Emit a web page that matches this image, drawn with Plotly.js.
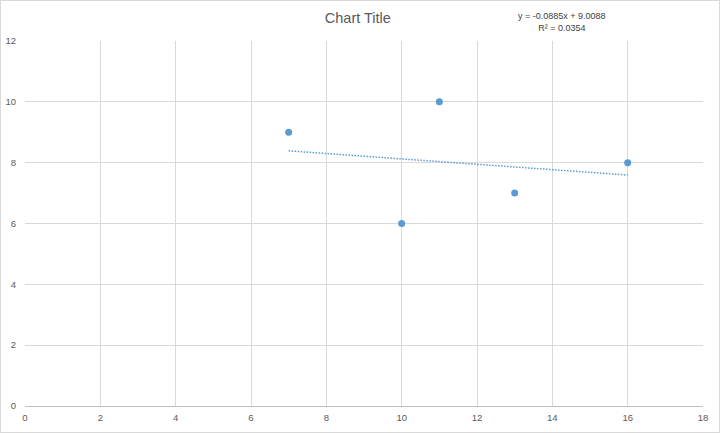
<!DOCTYPE html>
<html>
<head>
<meta charset="utf-8">
<script src="https://cdn.plot.ly/plotly-3.0.1.min.js"></script>
<style>
html,body{margin:0;padding:0;background:#fff;}
#wrap{position:relative;width:720px;height:433px;}
#chart{width:720px;height:433px;}
#frame{position:absolute;left:0;top:0;width:718px;height:431px;border:1px solid #d9d9d9;pointer-events:none;}
</style>
</head>
<body>
<div id="wrap"><div id="chart"></div><div id="frame"></div></div>
<script>
const xValues = [7, 10, 11, 13, 16];
const yValues = [9, 6, 10, 7, 8];
const trendSlope = -0.0885;
const trendIntercept = 9.0088;
const rSquared = 0.0354;
const xTicks = [0, 2, 4, 6, 8, 10, 12, 14, 16, 18];
const yTicks = [0, 2, 4, 6, 8, 10, 12];

const xMin = Math.min(...xValues), xMax = Math.max(...xValues);
const trendX = [xMin, xMax];
const trendY = trendX.map(x => trendSlope * x + trendIntercept);

const font = "Liberation Sans, Arial, sans-serif";
const blue = "#5b9bd5";

const data = [
  {x: xValues, y: yValues, type: "scatter", mode: "markers",
   marker: {color: blue, size: 7}, hoverinfo: "skip", showlegend: false},
  {x: trendX, y: trendY, type: "scatter", mode: "lines",
   line: {color: blue, width: 1.5, dash: "1.5px,1.5px"}, hoverinfo: "skip", showlegend: false}
];

const layout = {
  width: 720, height: 433,
  margin: {l: 25, r: 17, t: 41, b: 27},
  paper_bgcolor: "#fff", plot_bgcolor: "#fff",
  font: {family: font, color: "#595959", size: 9},
  title: {text: "Chart Title", x: 0.497, xanchor: "center", y: 0.958, yanchor: "middle",
          font: {family: font, size: 14.5, color: "#595959"}},
  xaxis: {range: [0, 18], tickvals: xTicks, ticktext: xTicks.map(String),
          showgrid: true, gridcolor: "#d9d9d9", gridwidth: 1,
          zeroline: false, showline: false, ticks: "outside", ticklen: 3, tickcolor: "rgba(0,0,0,0)",
          tickfont: {size: 9.5, color: "#595959"}},
  yaxis: {range: [0, 12], tickvals: yTicks, ticktext: yTicks.map(String),
          showgrid: true, gridcolor: "#d9d9d9", gridwidth: 1,
          zeroline: true, zerolinecolor: "#bfbfbf", zerolinewidth: 1,
          showline: false, ticks: "outside", ticklen: 6, tickcolor: "rgba(0,0,0,0)",
          tickfont: {size: 9.5, color: "#595959"}},
  annotations: [{
    xref: "paper", yref: "paper", x: 0.792, y: 1.051, xanchor: "center", yanchor: "middle",
    text: "y = " + trendSlope.toFixed(4) + "x + " + trendIntercept.toFixed(4) + "<br>R² = " + rSquared.toFixed(4),
    showarrow: false, align: "center",
    font: {family: font, size: 9, color: "#404040"}
  }]
};

Plotly.newPlot("chart", data, layout, {staticPlot: true, displayModeBar: false});
</script>
</body>
</html>
